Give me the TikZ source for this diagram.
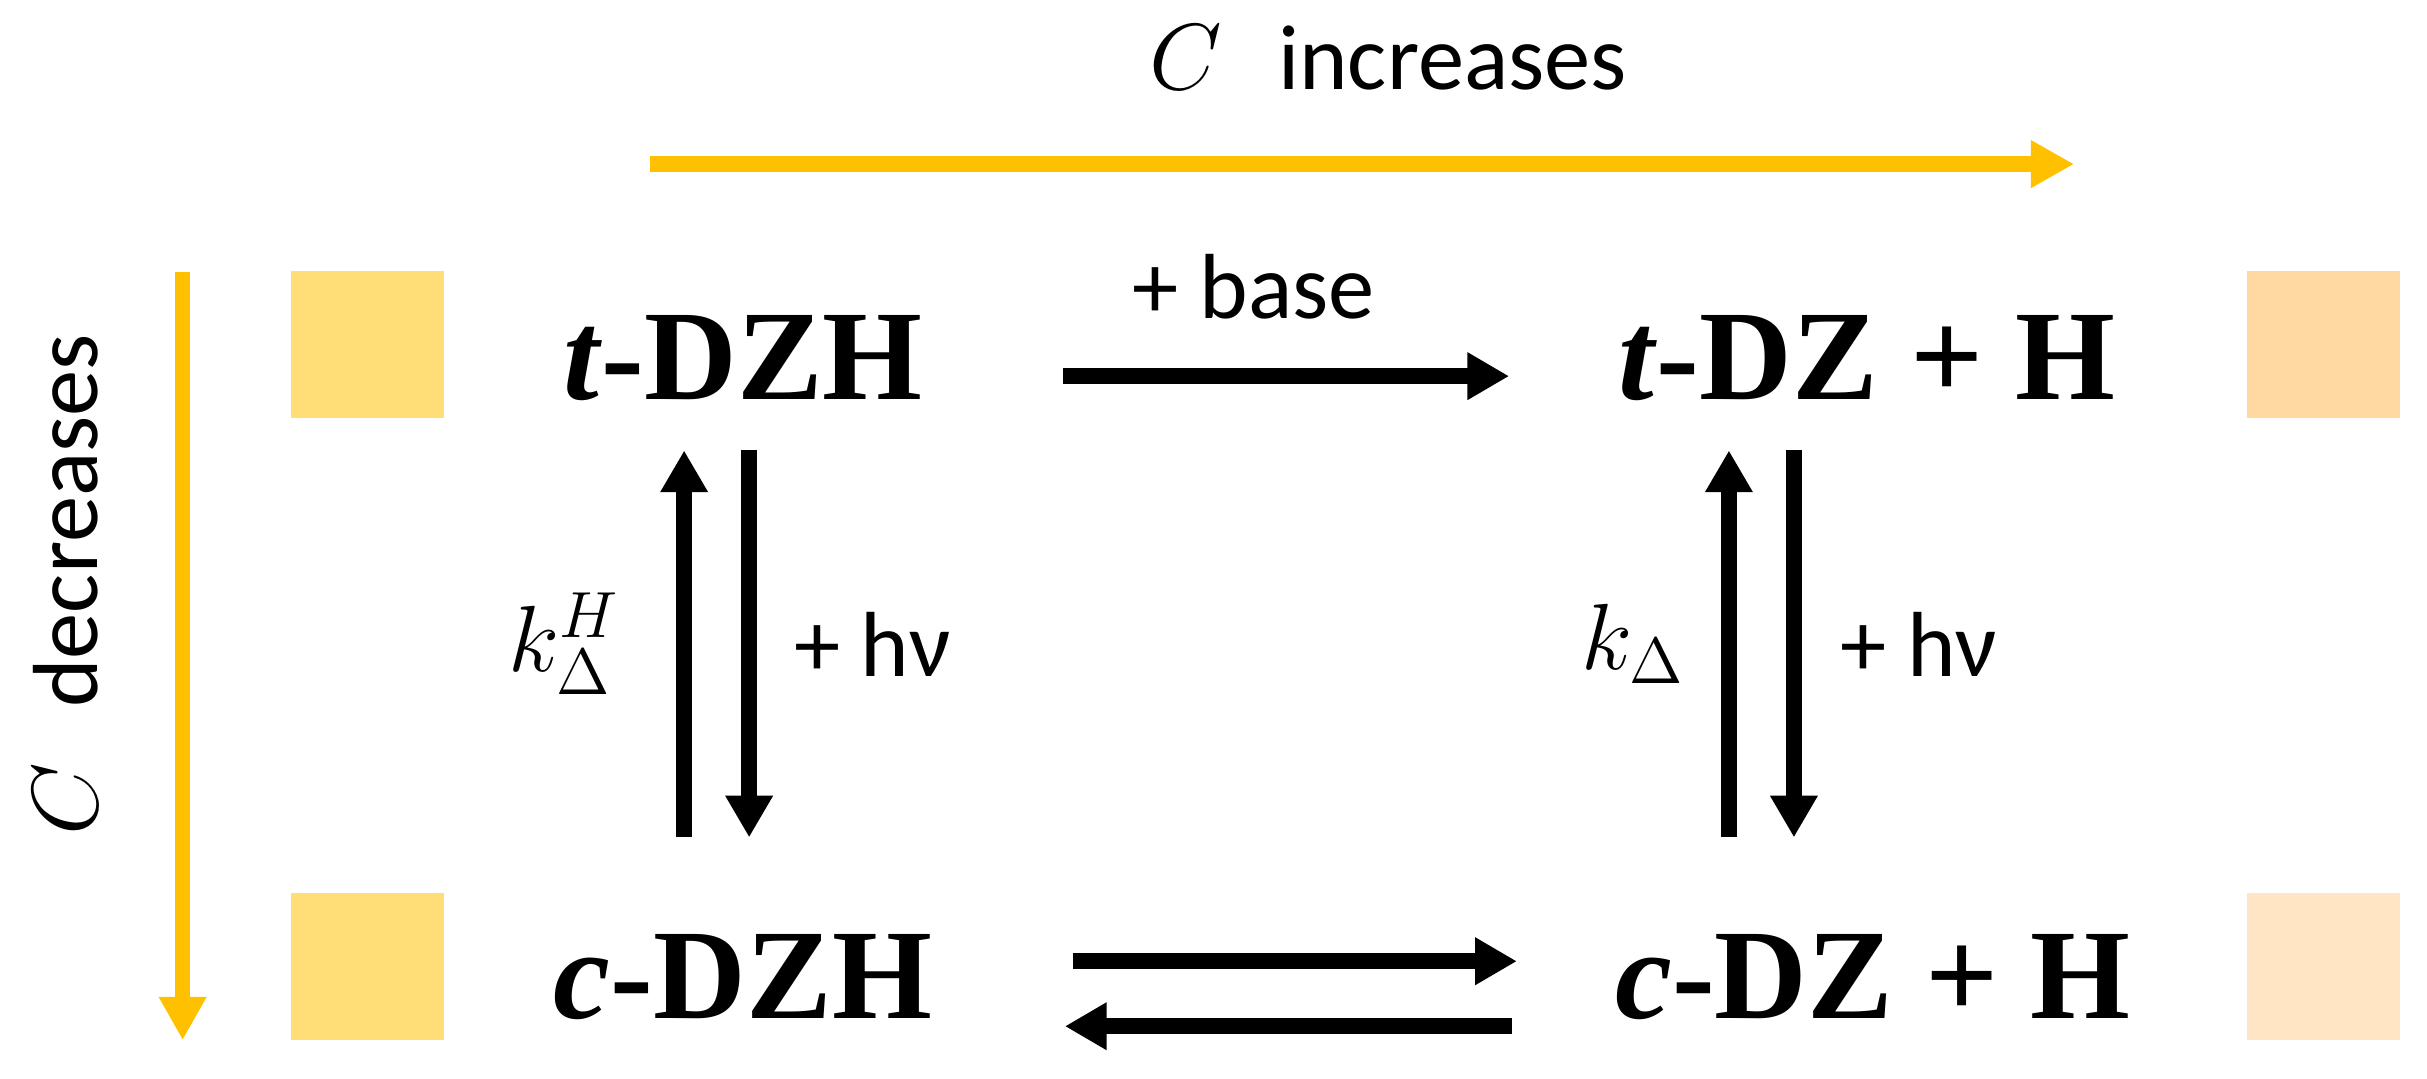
\documentclass[tikz,border=0pt]{standalone}
\usepackage{fontspec}
\setmainfont{Liberation Serif}
\newfontfamily\timesfont{Liberation Serif}
\newfontfamily\calibri{Carlito}
\usepackage{xcolor}
\usetikzlibrary{
    arrows.meta,
    calc,
    positioning
}
\definecolor{gold}{HTML}{FFC000}
\definecolor{lightgold}{HTML}{FFDE78}
\definecolor{peach}{HTML}{FFD8A2}
\definecolor{lightpeach}{HTML}{FFE5C3}
\tikzset{
    species/.style={font=\fontsize{23.6}{28}\selectfont\timesfont\bfseries, inner sep=0pt, anchor=base},
    note/.style={font=\fontsize{17}{20}\selectfont\calibri, inner sep=0pt},
    swatch/.style={minimum width=9.9mm, minimum height=9.5mm, inner sep=0pt},
    rxn/.style={line width=1mm, -{Triangle[length=2.7mm, width=2.9mm]}},
    trend/.style={line width=1mm, gold, -{Triangle[length=2.8mm, width=2.9mm]}}
}

\begin{document}
\begin{tikzpicture}[x=0.1mm, y=-0.1mm]
                        \useasboundingbox (0, 0) rectangle (1568, 697);
                        % colour swatches
                        \node[swatch, fill=lightgold] (swTL) at (237.5, 222.5) {};
                        \node[swatch, fill=lightgold] (swBL) at (237.5, 624.5) {};
                        \node[swatch, fill=peach] (swTR) at (1501, 222.5) {};
                        \node[swatch, fill=lightpeach] (swBR) at (1501, 624.5) {};
                        % species
                        \node[species] (tDZH) at (480, 258) {\textit{t}-DZH};
                        \node[species] (tDZ) at (1206, 258) {\textit{t}-DZ + H};
                        \node[species] (cDZH) at (480, 658) {\textit{c}-DZH};
                        \node[species] (cDZ) at (1210, 658) {\textit{c}-DZ + H};
                        % concentration trends
                        \coordinate (incL) at (420, 106);
                        \coordinate (incR) at (1340, 106);
                        \coordinate (decT) at (118, 176);
                        \coordinate (decB) at (118, 672);
                        \draw[trend] (incL) -- (incR);
                        \draw[trend] (decT) -- (decB);
                        \node[note, anchor=base] (incLabel) at (897, 58) {$C$\hspace{3.6mm}increases};
                        \node[note, anchor=base, rotate=90] (decLabel) at (63, 378) {$C$\hspace{3.6mm}decreases};
                        % reactions
                        \draw
                        ($(tDZH.base)+(207,-15)$) edge[rxn] node[note, above=3.2mm, xshift=-2.1mm]{+ base} ($(tDZ.base)+(-231,-15)$)
                        ($(cDZH.base)+(-38,-117)$) edge[rxn] node[note, left=3.6mm]{$k_{\Delta}^{H}$} ($(tDZH.base)+(-38,33)$)
                        ($(tDZH.base)+(4,33)$) edge[rxn] node[note, right=2.4mm]{+ hν} ($(cDZH.base)+(4,-117)$)
                        ($(cDZ.base)+(-93,-117)$) edge[rxn] node[note, left=2.3mm]{$k_{\Delta}$} ($(tDZ.base)+(-89,33)$)
                        ($(tDZ.base)+(-47,33)$) edge[rxn] node[note, right=2.5mm]{+ hν} ($(cDZ.base)+(-51,-117)$)
                        ($(cDZH.base)+(213,-37)$) edge[rxn] ($(cDZ.base)+(-230,-37)$)
                        ($(cDZ.base)+(-233,5)$) edge[rxn] ($(cDZH.base)+(208,5)$);
\end{tikzpicture}
\end{document}
